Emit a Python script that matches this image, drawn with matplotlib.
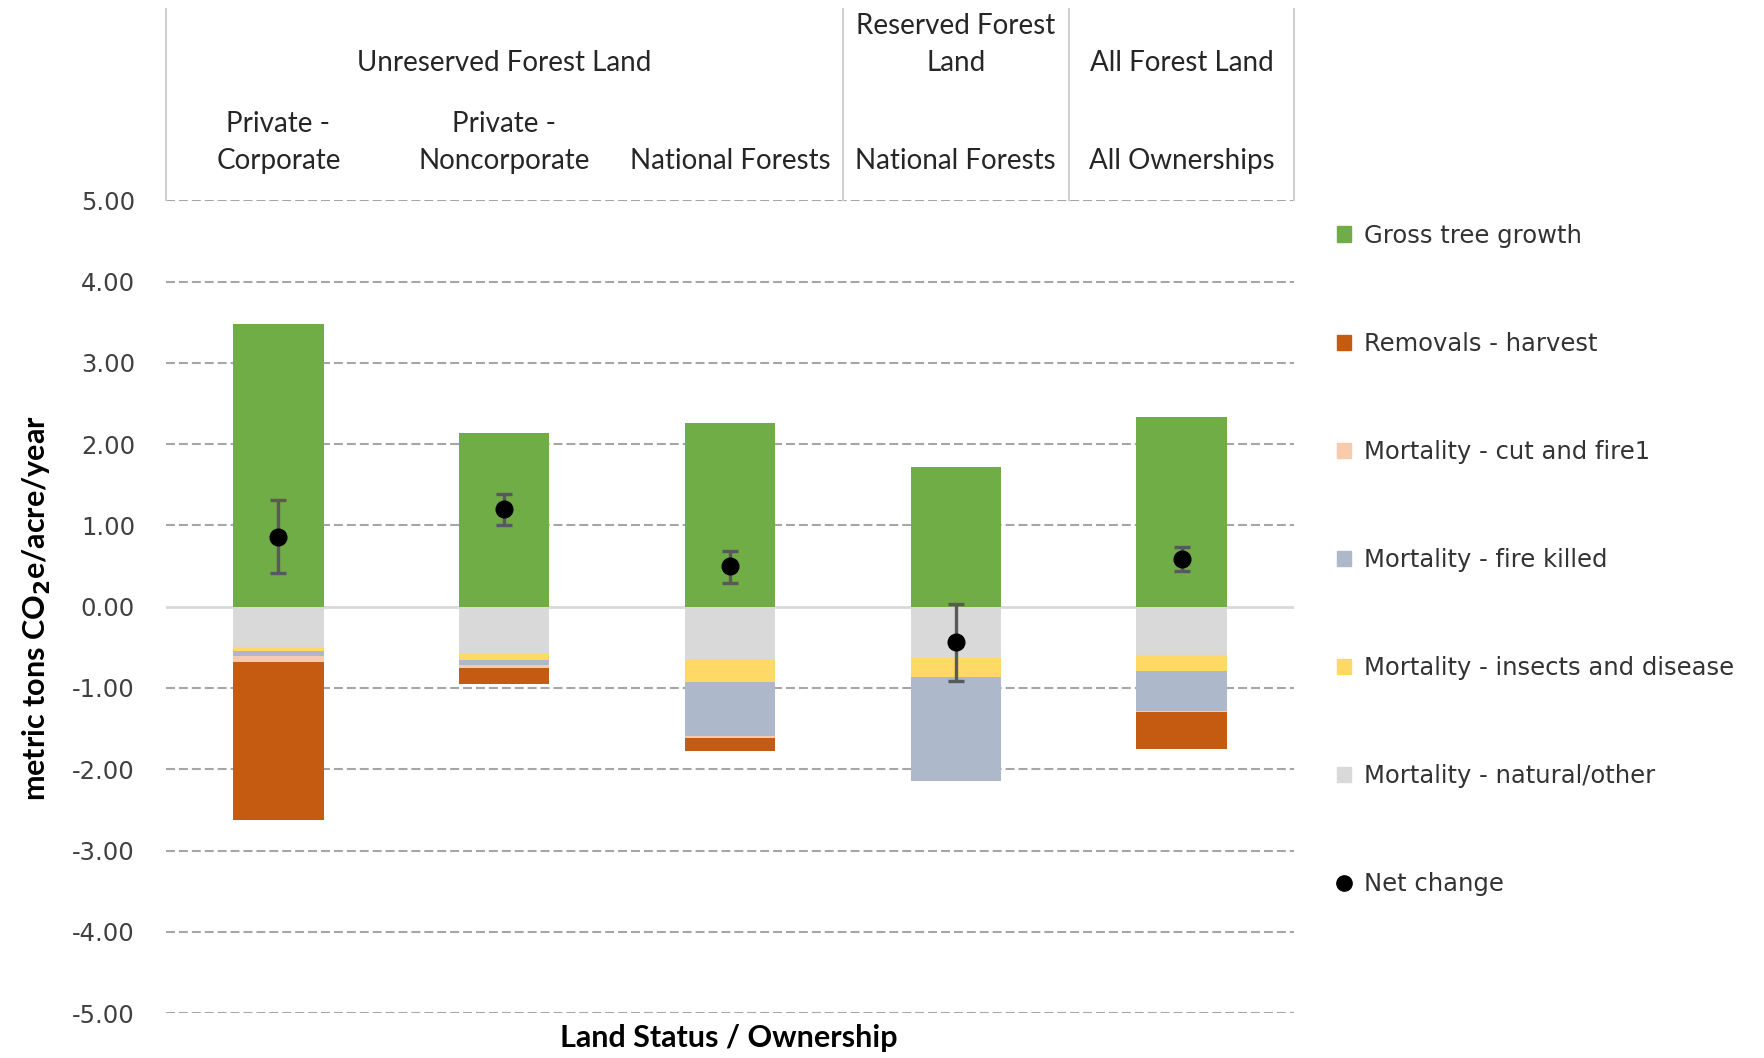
import numpy as np
import matplotlib
matplotlib.use("Agg")
import matplotlib.pyplot as plt
from matplotlib.patches import Patch
from matplotlib.lines import Line2D

plt.rcParams["axes.unicode_minus"] = False

# Ownership columns and their land-status groups
ownerships = ["Private -\nCorporate", "Private -\nNoncorporate", "National Forests",
              "National Forests", "All Ownerships"]
land_status = ["Unreserved Forest Land", "Reserved Forest\nLand", "All Forest Land"]
status_spans = [(0, 2), (3, 3), (4, 4)]

# Carbon flux components (metric tons CO2e/acre/year)
gross_growth = [3.48, 2.14, 2.26, 1.72, 2.34]
mort_natural = [-0.49, -0.58, -0.65, -0.63, -0.59]
mort_insects = [-0.06, -0.07, -0.28, -0.23, -0.20]
mort_fire = [-0.06, -0.07, -0.66, -1.29, -0.49]
mort_cut_fire = [-0.07, -0.03, -0.03, 0.00, -0.01]
removals_harvest = [-1.95, -0.20, -0.16, 0.00, -0.46]

# Net change with its confidence interval
net_change = [0.86, 1.20, 0.50, -0.44, 0.59]
net_low = [0.41, 1.01, 0.29, -0.91, 0.44]
net_high = [1.31, 1.39, 0.69, 0.03, 0.74]

y_ticks = [5, 4, 3, 2, 1, 0, -1, -2, -3, -4, -5]

colors = {
    "gross": "#70AD47",
    "harvest": "#C55A11",
    "cut_fire": "#F8CBAD",
    "fire": "#ADB9CA",
    "insects": "#FFD966",
    "natural": "#D9D9D9",
}

head_font = "Lato"
head_size = 20
head_color = "#262626"

fig = plt.figure(figsize=(17.65, 10.58), dpi=100)
ax = fig.add_axes([0.0938, 0.0425, 0.6396, 0.7681])

x = np.arange(len(ownerships))
w = 0.4

# gridlines
for t in y_ticks:
    if t == 0:
        ax.axhline(0, color="#D9D9D9", lw=2.0, zorder=0.5)
    else:
        ax.axhline(t, color="#A6A6A6", lw=1.5, ls=(0, (4.3, 1.9)), zorder=0.5)

ax.bar(x, gross_growth, w, color=colors["gross"], zorder=2)

bottom = np.zeros(len(x))
for key, vals in [("natural", mort_natural), ("insects", mort_insects),
                  ("fire", mort_fire), ("cut_fire", mort_cut_fire),
                  ("harvest", removals_harvest)]:
    v = np.array(vals)
    ax.bar(x, v, w, bottom=bottom, color=colors[key], zorder=2)
    bottom = bottom + v

net = np.array(net_change)
yerr = [net - np.array(net_low), np.array(net_high) - net]
ax.errorbar(x, net, yerr=yerr, fmt="none", ecolor="#595959", elinewidth=2.4,
            capsize=5.5, capthick=2.4, zorder=3)
ax.plot(x, net, "o", color="black", ms=12, zorder=4)

ax.set_xlim(-0.5, 4.5)
ax.set_ylim(-5, 5)
ax.set_yticks(y_ticks)
ax.set_yticklabels([f"{t:.2f}" for t in y_ticks], fontsize=17.5, color="#404040")
ax.tick_params(axis="y", length=0, pad=22)
ax.set_xticks([])
for s in ax.spines.values():
    s.set_visible(False)

# category header above the plot
line_kw = dict(color="#D0D0D0", lw=1.5, clip_on=False, zorder=1)
for xb in [-0.5, 2.5, 3.5, 4.5]:
    ax.plot([xb, xb], [5, 7.35], **line_kw)


def header_label(xc, y_last, text, step=0.455):
    """Write a multi-line header label whose last line sits at y_last."""
    lines = text.split("\n")
    for i, line in enumerate(reversed(lines)):
        ax.text(xc, y_last + i * step, line, ha="center", va="center",
                fontsize=head_size, family=head_font, color=head_color,
                clip_on=False)


for (a, b), lab in zip(status_spans, land_status):
    header_label((a + b) / 2, 6.69, lab)

for xi, lab in zip(x, ownerships):
    header_label(xi, 5.485, lab)

fig.text(0.021, 0.425, "metric tons CO$_\\mathbf{2}$e/acre/year", rotation=90,
         ha="center", va="center", fontsize=22, fontweight="bold", family=head_font,
         color="black")
fig.text(0.413, 0.019, "Land Status / Ownership", ha="center", va="center",
         fontsize=22, fontweight="bold", family=head_font, color="black")

handles = [
    Patch(color=colors["gross"], label="Gross tree growth"),
    Patch(color=colors["harvest"], label="Removals - harvest"),
    Patch(color=colors["cut_fire"], label="Mortality - cut and fire1"),
    Patch(color=colors["fire"], label="Mortality - fire killed"),
    Patch(color=colors["insects"], label="Mortality - insects and disease"),
    Patch(color=colors["natural"], label="Mortality - natural/other"),
    Line2D([], [], marker="o", ls="none", color="black", ms=11, label="Net change"),
]
leg = fig.legend(handles=handles, loc="upper left", bbox_to_anchor=(0.7505, 0.800),
                 frameon=False, fontsize=17.5, handlelength=0.6, handleheight=0.6,
                 handletextpad=0.5, labelspacing=3.46, borderpad=0)
for t in leg.get_texts():
    t.set_color("#333333")

fig.savefig("out.png", dpi=100)
